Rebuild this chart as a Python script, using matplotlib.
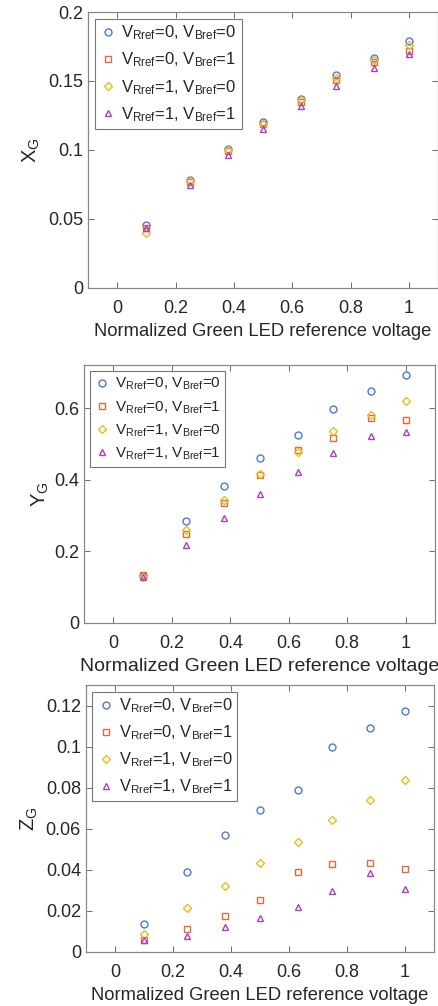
import matplotlib.pyplot as plt
import numpy as np

plt.rcParams['font.family'] = ['Liberation Sans', 'DejaVu Sans']
plt.rcParams['mathtext.fontset'] = 'custom'
plt.rcParams['mathtext.rm'] = 'Liberation Sans'

# normalized green LED reference voltage
v = [0.1, 0.25, 0.38, 0.5, 0.63, 0.75, 0.88, 1.0]

# X_G per (V_Rref, V_Bref) combination
x_00 = [0.0455, 0.078, 0.101, 0.1205, 0.137, 0.154, 0.167, 0.179]
x_01 = [0.043, 0.077, 0.0995, 0.119, 0.135, 0.1505, 0.164, 0.1715]
x_10 = [0.040, 0.0775, 0.100, 0.119, 0.136, 0.152, 0.1655, 0.176]
x_11 = [0.043, 0.0745, 0.0965, 0.1155, 0.132, 0.1465, 0.1595, 0.1695]

# Y_G
y_00 = [0.130, 0.284, 0.382, 0.4595, 0.525, 0.597, 0.648, 0.693]
y_01 = [0.134, 0.247, 0.336, 0.412, 0.483, 0.516, 0.573, 0.566]
y_10 = [0.127, 0.258, 0.343, 0.416, 0.476, 0.535, 0.582, 0.620]
y_11 = [0.129, 0.217, 0.293, 0.359, 0.420, 0.474, 0.522, 0.534]

# Z_G
z_00 = [0.0134, 0.0388, 0.0571, 0.0689, 0.079, 0.0996, 0.1089, 0.1176]
z_01 = [0.0055, 0.0112, 0.0176, 0.0252, 0.0388, 0.0428, 0.0433, 0.0405]
z_10 = [0.0085, 0.0213, 0.0322, 0.043, 0.0537, 0.0641, 0.0742, 0.0837]
z_11 = [0.0055, 0.0077, 0.012, 0.0166, 0.0218, 0.0298, 0.0383, 0.0306]

labels = [r'$\mathregular{V_{Rref}}$=0, $\mathregular{V_{Bref}}$=0',
          r'$\mathregular{V_{Rref}}$=0, $\mathregular{V_{Bref}}$=1',
          r'$\mathregular{V_{Rref}}$=1, $\mathregular{V_{Bref}}$=0',
          r'$\mathregular{V_{Rref}}$=1, $\mathregular{V_{Bref}}$=1']
markers = ['o', 's', 'D', '^']
msizes = [5, 4, 4, 5]
colors = ['#4f78d8', '#e4693a', '#ecbb1e', '#ae3fbe']

fig = plt.figure(figsize=(4.38, 10.06), dpi=100)

# rect, series, ylabel, ylim, yticks, yticklabels, tick size, xlabel size, legend size, legend spacing, ylabel pad
panels = [
    ([0.201, 0.714, 0.799, 0.274], [x_00, x_01, x_10, x_11], r'$\mathregular{X_G}$',
     (0, 0.2), [0, 0.05, 0.1, 0.15, 0.2], ['0', '0.05', '0.1', '0.15', '0.2'],
     13, 13.2, 12, 0.5, 4),
    ([0.192, 0.381, 0.801, 0.256], [y_00, y_01, y_10, y_11], r'$\mathregular{Y_G}$',
     (0, 0.72), [0, 0.2, 0.4, 0.6], ['0', '0.2', '0.4', '0.6'],
     13, 14, 11, 0.45, 2),
    ([0.196, 0.054, 0.795, 0.265], [z_00, z_01, z_10, z_11], r'$\mathregular{Z_G}$',
     (0, 0.13), [0, 0.02, 0.04, 0.06, 0.08, 0.1, 0.12],
     ['0', '0.02', '0.04', '0.06', '0.08', '0.1', '0.12'],
     13, 13.2, 11.8, 0.5, 4),
]

for rect, series, ylab, ylim, yt, ytl, tfs, xfs, lfs, lsp, ypad in panels:
    ax = fig.add_axes(rect)
    for s, m, ms, c, lab in zip(series, markers, msizes, colors, labels):
        ax.plot(v, s, linestyle='none', marker=m, markersize=ms,
                markerfacecolor='none', markeredgecolor=c, markeredgewidth=1.0, label=lab)
    ax.set_xlim(-0.1, 1.1)
    ax.set_ylim(*ylim)
    ax.set_xticks(np.arange(0, 1.01, 0.2))
    ax.set_xticklabels(['0', '0.2', '0.4', '0.6', '0.8', '1'])
    ax.set_yticks(yt)
    ax.set_yticklabels(ytl)
    ax.tick_params(direction='in', top=True, right=True, length=4, width=0.6,
                   color='#555555', labelcolor='#262626', labelsize=tfs)
    ax.tick_params(axis='x', pad=9)
    for sp in ax.spines.values():
        sp.set_color('#888888')
        sp.set_linewidth(0.9)
    ax.set_xlabel('Normalized Green LED reference voltage', fontsize=xfs, color='#262626', labelpad=4)
    ax.set_ylabel(ylab, fontsize=14.5, color='#262626', labelpad=ypad)
    leg = ax.legend(loc='upper left', fontsize=lfs, frameon=True, fancybox=False,
                    framealpha=1, edgecolor='#777777', handletextpad=0.3,
                    handlelength=1.0, borderpad=0.3, labelspacing=lsp,
                    borderaxespad=0.4)
    leg.get_frame().set_linewidth(0.8)
    for t in leg.get_texts():
        t.set_color('#262626')

fig.savefig('out.png', dpi=100)
